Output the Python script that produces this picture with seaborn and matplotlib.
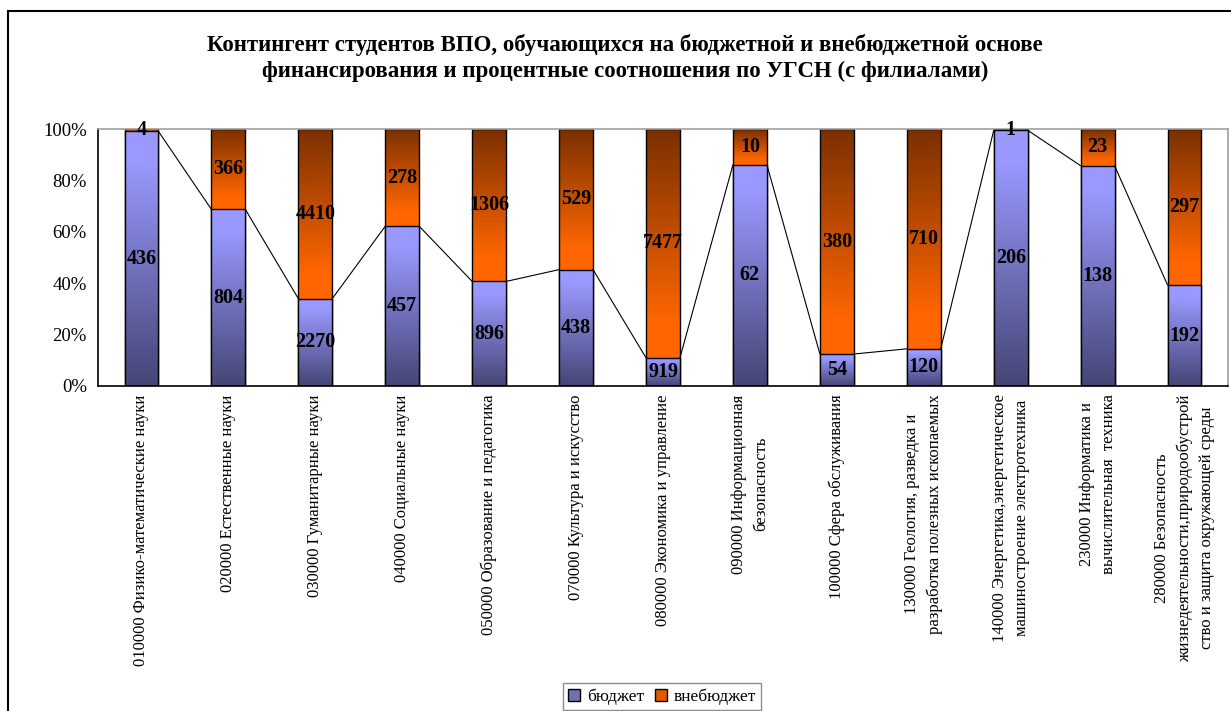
import numpy as np
import pandas as pd
import matplotlib
matplotlib.use("Agg")
import matplotlib.pyplot as plt
from matplotlib.patches import Patch, Rectangle
import seaborn as sns

categories = [
    "010000 Физико-математические науки",
    "020000 Естественные науки",
    "030000 Гуманитарные науки",
    "040000 Социальные науки",
    "050000 Образование и педагогика",
    "070000 Культура и искусство",
    "080000 Экономика и управление",
    "090000 Информационная\nбезопасность",
    "100000 Сфера обслуживания",
    "130000 Геология, разведка и\nразработка полезных ископаемых",
    "140000 Энергетика,энергетическое\nмашиностроение электротехника",
    "230000 Информатика и\nвычислительная  техника",
    "280000 Безопасность\nжизнедеятельности,природообустрой\nство и защита окружающей среды",
]
budget = [436, 804, 2270, 457, 896, 438, 919, 62, 54, 120, 206, 138, 192]
extra = [4, 366, 4410, 278, 1306, 529, 7477, 10, 380, 710, 1, 23, 297]
series_names = ["бюджет", "внебюджет"]
yticks = [0, 20, 40, 60, 80, 100]
title = ("Контингент студентов ВПО, обучающихся на бюджетной и внебюджетной основе\n"
         "финансирования и процентные соотношения по УГСН (с филиалами)")

sns.set_style("white")
plt.rcParams["font.family"] = ["Liberation Serif", "DejaVu Serif"]
plt.rcParams["text.color"] = "black"
plt.rcParams["xtick.color"] = "black"
plt.rcParams["ytick.color"] = "black"
plt.rcParams["axes.labelcolor"] = "black"

df = pd.DataFrame({"cat": categories, "budget": budget, "extra": extra})
df["total"] = df["budget"] + df["extra"]
df["pct_b"] = df["budget"] / df["total"] * 100
df["pct_t"] = df["total"] / df["total"] * 100

W, H = 1231, 711
fig = plt.figure(figsize=(W / 100, H / 100), dpi=100)
ax = fig.add_axes([98 / W, 1 - 386 / H, 1130 / W, 257 / H])

bw = 0.39
sns.barplot(data=df, x="cat", y="pct_t", color="#FF6600", width=bw,
            edgecolor="black", linewidth=1.0, ax=ax, errorbar=None)
sns.barplot(data=df, x="cat", y="pct_b", color="#9999FF", width=bw,
            edgecolor="black", linewidth=1.0, ax=ax, errorbar=None)

n = len(categories)
patches = list(ax.patches)
ext_p = patches[:n]
bud_p = patches[n:]


def grad(c_bottom, c_top, flat_bottom=0.0, flat_top=0.0, N=256):
    t = np.linspace(0, 1, N)
    s = np.clip((t - flat_bottom) / (1 - flat_bottom - flat_top), 0, 1)
    cb = np.array(matplotlib.colors.to_rgb(c_bottom))
    ct = np.array(matplotlib.colors.to_rgb(c_top))
    arr = cb[None, :] * (1 - s[:, None]) + ct[None, :] * s[:, None]
    return arr[:, None, :]


g_ext = grad("#FF6600", "#7A3000", flat_bottom=0.15)
g_bud = grad("#454575", "#9999FF", flat_top=0.12)

for i, p in enumerate(ext_p):
    x0 = p.get_x(); w = p.get_width()
    lo = df["pct_b"].iloc[i]
    p.set_facecolor("none"); p.set_zorder(2)
    im = ax.imshow(g_ext, extent=[x0, x0 + w, lo, 100], origin="lower",
                   aspect="auto", zorder=1.5, interpolation="bilinear")
    im.set_clip_path(p)
for i, p in enumerate(bud_p):
    x0 = p.get_x(); w = p.get_width(); h = p.get_height()
    p.set_facecolor("none"); p.set_zorder(3)
    im = ax.imshow(g_bud, extent=[x0, x0 + w, 0, h], origin="lower",
                   aspect="auto", zorder=2.5, interpolation="bilinear")
    im.set_clip_path(p)

# series lines
for i in range(n - 1):
    ax.plot([i + bw / 2, i + 1 - bw / 2], [df["pct_b"].iloc[i], df["pct_b"].iloc[i + 1]],
            color="black", lw=0.8, zorder=4)

# data labels
for i in range(n):
    pb = df["pct_b"].iloc[i]
    ax.text(i, pb / 2, str(budget[i]), ha="center", va="center", color="black",
            fontsize=14.5, fontweight="bold", zorder=5)
    ax.text(i, pb + (100 - pb) / 2, str(extra[i]), ha="center", va="center", color="black",
            fontsize=14.5, fontweight="bold", zorder=5)

ax.set_xlim(-0.5, n - 0.5)
ax.set_ylim(0, 100)
ax.set_yticks(yticks)
ax.set_yticklabels([f"{v}%" for v in yticks], fontsize=13.5)
ax.set_xticks(range(n))
ax.set_xticklabels(categories, rotation=90, fontsize=12, ha="center", va="top",
                   multialignment="center", linespacing=1.5)
ax.set_xticks(np.arange(-0.5, n, 1), minor=True)
ax.tick_params(axis="x", which="major", length=0, pad=6)
ax.tick_params(axis="x", which="minor", length=5, direction="out", color="black", width=1)
ax.tick_params(axis="y", which="major", length=5, direction="out", color="black", width=1, pad=3)
ax.set_xlabel(""); ax.set_ylabel("")

for s in ["left", "bottom"]:
    ax.spines[s].set_color("black"); ax.spines[s].set_linewidth(1.2)
for s in ["top", "right"]:
    ax.spines[s].set_color("#A0A0A0"); ax.spines[s].set_linewidth(1.2)

fig.text(625 / W, 1 - 58 / H, title, ha="center", va="center", fontsize=16.5,
         fontweight="bold", linespacing=1.35, color="black")

handles = [Patch(facecolor="#7070B0", edgecolor="black", label=series_names[0]),
           Patch(facecolor="#E05A00", edgecolor="black", label=series_names[1])]
leg = fig.legend(handles=handles, loc="upper center", bbox_to_anchor=(662 / W, 1 - 683 / H),
                 ncol=2, frameon=True, fancybox=False, fontsize=12.5, handlelength=0.7,
                 handleheight=0.7, handletextpad=0.4, columnspacing=0.6, borderpad=0.3,
                 borderaxespad=0)
leg.get_frame().set_edgecolor("#707070")
leg.get_frame().set_linewidth(1.0)

fig.add_artist(Rectangle((8 / W, -0.1), 2, (1 - 11 / H) + 0.1, transform=fig.transFigure,
                         fill=False, edgecolor="black", lw=1.5))

fig.savefig("out.png", dpi=100)
